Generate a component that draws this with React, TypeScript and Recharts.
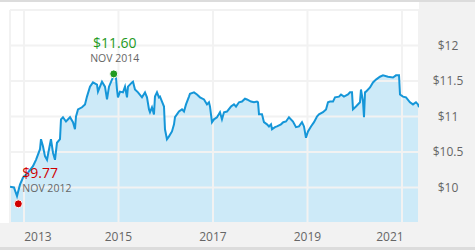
import { ComposedChart, Area, Line, XAxis, YAxis, CartesianGrid, ReferenceDot } from "recharts";

// decimal years and closing prices
const years = [
  2012.704, 2012.788, 2012.852, 2012.915, 2012.979, 2013.085, 2013.19, 2013.254, 2013.339, 2013.36,
  2013.402, 2013.444, 2013.487, 2013.55, 2013.571, 2013.614, 2013.656, 2013.698, 2013.762, 2013.783,
  2013.825, 2013.889, 2013.974, 2014.037, 2014.079, 2014.101, 2014.143, 2014.228, 2014.291, 2014.333,
  2014.397, 2014.46, 2014.545, 2014.566, 2014.608, 2014.651, 2014.714, 2014.757, 2014.799, 2014.862,
  2014.905, 2014.947, 2014.968, 2014.989, 2015.032, 2015.095, 2015.138, 2015.18, 2015.201, 2015.286,
  2015.307, 2015.349, 2015.413, 2015.497, 2015.561, 2015.603, 2015.646, 2015.667, 2015.709, 2015.751,
  2015.772, 2015.815, 2015.857, 2015.878, 2015.921, 2015.963, 2015.984, 2016.026, 2016.069, 2016.132,
  2016.175, 2016.196, 2016.28, 2016.344, 2016.386, 2016.429, 2016.492, 2016.513, 2016.598, 2016.661,
  2016.725, 2016.81, 2016.873, 2016.915, 2016.937, 2016.979, 2017.021, 2017.085, 2017.148, 2017.19,
  2017.233, 2017.296, 2017.381, 2017.444, 2017.487, 2017.55, 2017.614, 2017.677, 2017.72, 2017.804,
  2017.868, 2017.931, 2017.953, 2017.974, 2018.037, 2018.079, 2018.143, 2018.185, 2018.228, 2018.249,
  2018.312, 2018.354, 2018.439, 2018.487, 2018.545, 2018.608, 2018.693, 2018.757, 2018.82, 2018.884,
  2018.926, 2018.968, 2019.011, 2019.074, 2019.138, 2019.201, 2019.243, 2019.328, 2019.392, 2019.434,
  2019.476, 2019.54, 2019.582, 2019.667, 2019.709, 2019.772, 2019.857, 2019.899, 2019.942, 2019.963,
  2020.026, 2020.111, 2020.132, 2020.175, 2020.196, 2020.217, 2020.238, 2020.323, 2020.386, 2020.45,
  2020.534, 2020.598, 2020.704, 2020.81, 2020.873, 2020.937, 2020.958, 2021.021, 2021.085, 2021.169,
  2021.233, 2021.296, 2021.339, 2021.36,
];
const prices = [
  10.01, 10.0, 9.88, 10.04, 10.14, 10.21, 10.3, 10.39, 10.54, 10.68,
  10.58, 10.44, 10.39, 10.61, 10.68, 10.49, 10.39, 10.63, 10.68, 10.96,
  10.99, 10.93, 10.99, 10.92, 10.82, 11.0, 11.1, 11.13, 11.17, 11.28,
  11.42, 11.48, 11.45, 11.35, 11.42, 11.49, 11.42, 11.24, 11.42, 11.52,
  11.58, 11.55, 11.38, 11.27, 11.35, 11.34, 11.42, 11.27, 11.42, 11.48,
  11.49, 11.38, 11.34, 11.27, 11.34, 11.27, 11.1, 11.06, 11.13, 11.03,
  11.28, 11.34, 11.27, 11.28, 11.21, 11.14, 10.82, 10.68, 10.72, 10.79,
  10.89, 10.99, 11.07, 11.1, 11.07, 11.17, 11.28, 11.32, 11.34, 11.31,
  11.27, 11.24, 11.17, 11.2, 11.14, 10.92, 10.96, 10.99, 11.06, 10.96,
  11.06, 11.07, 11.14, 11.17, 11.14, 11.2, 11.21, 11.25, 11.24, 11.21,
  11.2, 11.21, 11.2, 11.03, 11.03, 10.92, 10.89, 10.86, 10.89, 10.82,
  10.85, 10.86, 10.89, 10.92, 10.93, 10.99, 10.93, 10.85, 10.86, 10.92,
  10.86, 10.7, 10.79, 10.86, 10.92, 11.0, 11.03, 11.06, 11.1, 11.2,
  11.21, 11.21, 11.27, 11.28, 11.31, 11.28, 11.31, 11.34, 11.34, 11.1,
  11.14, 11.2, 11.38, 11.21, 10.99, 11.34, 11.35, 11.41, 11.48, 11.52,
  11.56, 11.58, 11.56, 11.55, 11.58, 11.58, 11.31, 11.28, 11.27, 11.2,
  11.17, 11.2, 11.17, 11.13,
];

const xTicks = [2013, 2015, 2017, 2019, 2021];
const yTicks = [9.5, 10, 10.5, 11, 11.5, 12, 12.5];
const yLabels = ["", "$10", "$10.5", "$11", "$11.5", "$12", ""];

const lowPoint = { t: 2012.88, price: 9.77, label: "NOV 2012", color: "#d00000" };
const highPoint = { t: 2014.9, price: 11.6, label: "NOV 2014", color: "#1f9a1f" };

const data = years.map((t, i) => ({ t, price: prices[i] }));

const LINE = "#1596d8";
const FILL = "#cdeaf8";
const TEXT = "#666";

function XTick({ x, y, payload, index }: any) {
  // first and last labels sit a bit inward
  const shift = index === 0 ? 14 : index === xTicks.length - 1 ? -12 : 0;
  return (
    <text x={x + shift} y={y + 10} textAnchor="middle" fill={TEXT} fontSize={12}>
      {payload.value}
    </text>
  );
}

function YTick({ x, y, index }: any) {
  return (
    <text x={x + 21} y={y + 4} textAnchor="middle" fill={TEXT} fontSize={12}>
      {yLabels[index]}
    </text>
  );
}

function Marker({ cx, cy, color, price, label, left }: any) {
  const tx = left ? cx + 4 : cx + 1;
  const anchor = left ? "start" : "middle";
  return (
    <g>
      <text x={tx} y={cy - 26} fill={color} fontSize={14} textAnchor={anchor}>
        ${price.toFixed(2)}
      </text>
      <text x={tx} y={cy - 12} fill={TEXT} fontSize={10.5} textAnchor={anchor}>
        {label}
      </text>
      <circle cx={cx} cy={cy} r={4} fill={color} stroke="#fff" strokeWidth={1} />
    </g>
  );
}

export default function App() {
  return (
    <div
      style={{
        position: "fixed",
        left: 0,
        top: 0,
        width: 475,
        height: 250,
        background: "#fff",
        fontFamily: "'Open Sans', sans-serif",
      }}
    >
      <div style={{ position: "absolute", left: 0, top: 0, width: 475, height: 2, background: "#dcdcdc" }} />
      <div style={{ position: "absolute", left: 419, top: 2, width: 56, height: 245, background: "#f2f2f2" }} />
      <div style={{ position: "absolute", left: 0, top: 223, width: 475, height: 24, background: "#f2f2f2" }} />
      <div style={{ position: "absolute", left: 0, top: 247, width: 475, height: 3, background: "#dcdcdc" }} />
      <div style={{ position: "absolute", left: 0, top: 0 }}>
        <ComposedChart width={475} height={250} data={data} margin={{ top: 10, right: 0, bottom: 2, left: 10 }}>
          <XAxis
            dataKey="t"
            type="number"
            domain={[2012.704, 2021.36]}
            ticks={xTicks}
            allowDataOverflow
            axisLine={false}
            tickLine={false}
            height={25}
            tick={<XTick />}
            interval={0}
          />
          <YAxis
            orientation="right"
            domain={[9.5, 12.5]}
            ticks={yTicks}
            width={56}
            axisLine={false}
            tickLine={false}
            tick={<YTick />}
            interval={0}
          />
          <Area
            dataKey="price"
            type="linear"
            stroke="none"
            fill={FILL}
            fillOpacity={1}
            baseValue={9.5}
            isAnimationActive={false}
          />
          {/* grid sits over the fill but under the line */}
          <CartesianGrid stroke="#f2f2f2" strokeWidth={2} {...({ zIndex: 150 } as any)} />
          <Line
            dataKey="price"
            type="linear"
            stroke={LINE}
            strokeWidth={2}
            dot={false}
            isAnimationActive={false}
          />
          <ReferenceDot
            x={lowPoint.t}
            y={lowPoint.price}
            shape={(p: any) => (
              <Marker cx={p.cx} cy={p.cy} color={lowPoint.color} price={lowPoint.price} label={lowPoint.label} left />
            )}
          />
          <ReferenceDot
            x={highPoint.t}
            y={highPoint.price}
            shape={(p: any) => (
              <Marker cx={p.cx} cy={p.cy} color={highPoint.color} price={highPoint.price} label={highPoint.label} />
            )}
          />
        </ComposedChart>
      </div>
    </div>
  );
}
